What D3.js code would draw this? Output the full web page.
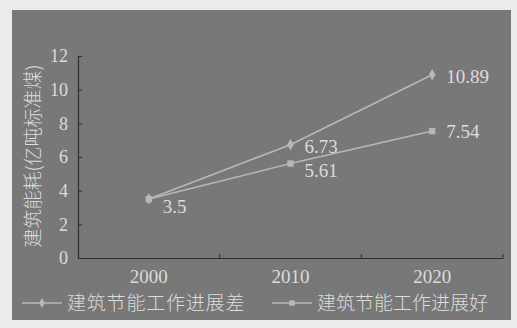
<!DOCTYPE html>
<html><head><meta charset="utf-8">
<script src="https://cdn.jsdelivr.net/npm/d3@7"></script>
<style>
html,body{margin:0;padding:0;background:#ebebeb;}
svg{display:block;}
</style></head>
<body>
<svg id="chart" width="517" height="328"></svg>
<script>
const categories = ["2000", "2010", "2020"];
const seriesNames = ["建筑节能工作进展差", "建筑节能工作进展好"];
const seriesBad = [3.5, 6.73, 10.89];
const seriesGood = [3.5, 5.61, 7.54];
const yTicks = [0, 2, 4, 6, 8, 10, 12];
const yTitle = "建筑能耗(亿吨标准煤)";

const svg = d3.select("#chart");
const bg = "#787878", textCol = "#dcdcdc", lineCol = "#b7b7b7", axisCol = "#2e2e2e";
const serif = "'Liberation Serif','DejaVu Serif',serif";
const cjk = "'Noto Sans CJK SC','Noto Sans',sans-serif";

svg.append("rect").attr("x", 12).attr("y", 10).attr("width", 499).attr("height", 310).attr("fill", bg);

const margin = {left: 78, right: 503, top: 56, bottom: 258};
const x = d3.scaleBand().domain(categories).range([margin.left, margin.right]).padding(0);
const y = d3.scaleLinear().domain([0, 12]).range([margin.bottom, margin.top]);

// y axis
const yAxis = svg.append("g").attr("transform", `translate(${margin.left},0)`)
  .call(d3.axisLeft(y).tickValues(yTicks).tickSize(-4).tickPadding(10).tickFormat(d3.format("d")));
yAxis.select(".domain").attr("stroke", axisCol).attr("stroke-width", 1.2);
yAxis.selectAll(".tick line").attr("stroke", axisCol);
yAxis.selectAll("text").attr("fill", textCol).attr("font-family", serif).attr("font-size", 18);

// x axis
const xAxis = svg.append("g").attr("transform", `translate(0,${margin.bottom})`)
  .call(d3.axisBottom(x).tickSize(0).tickPadding(12));
xAxis.select(".domain").attr("stroke", axisCol).attr("stroke-width", 1.2);
xAxis.selectAll("text").attr("fill", textCol).attr("font-family", serif).attr("font-size", 19);
// boundary ticks
xAxis.selectAll(".bt").data(categories.slice(1).concat(["end"])).join("line")
  .attr("x1", (d, i) => margin.left + x.bandwidth() * (i + 1))
  .attr("x2", (d, i) => margin.left + x.bandwidth() * (i + 1))
  .attr("y1", 0).attr("y2", -4).attr("stroke", axisCol);

// y title
svg.append("text").attr("transform", `translate(40,156) rotate(-90)`)
  .attr("text-anchor", "middle").attr("fill", textCol).attr("font-family", cjk)
  .attr("font-size", 19).attr("font-weight", 300).text(yTitle);

const cx = d => x(d) + x.bandwidth() / 2;
const line = d3.line().x((d, i) => cx(categories[i])).y(d => y(d));

const series = [
  {name: seriesNames[0], values: seriesBad, shape: d3.symbolDiamond},
  {name: seriesNames[1], values: seriesGood, shape: d3.symbolSquare}
];

series.forEach((s, si) => {
  svg.append("path").datum(s.values).attr("d", line)
    .attr("fill", "none").attr("stroke", lineCol).attr("stroke-width", 1.6);
  svg.selectAll(".m" + si).data(s.values).join("path")
    .attr("transform", (d, i) => `translate(${cx(categories[i])},${y(d)})`)
    .attr("d", d3.symbol().type(s.shape).size(si === 0 ? 38 : 40))
    .attr("fill", lineCol);
});

// value labels
const fmt = d => String(d);
series.forEach((s, si) => {
  s.values.forEach((v, i) => {
    if (i === 0 && si === 1) return;
    const dy = i === 0 ? 14 : (si === 0 ? 8 : (i === 1 ? 13 : 7));
    svg.append("text").attr("x", cx(categories[i]) + 14).attr("y", y(v) + dy)
      .attr("fill", textCol).attr("font-family", serif).attr("font-size", 19).text(fmt(v));
  });
});

// legend
const legend = [
  {x0: 22, text: seriesNames[0], shape: d3.symbolDiamond, ls: 0.8},
  {x0: 272, text: seriesNames[1], shape: d3.symbolSquare, ls: 0}
];
legend.forEach(l => {
  const g = svg.append("g").attr("transform", `translate(${l.x0},303)`);
  g.append("line").attr("x1", 0).attr("x2", 40).attr("y1", 0).attr("y2", 0)
    .attr("stroke", lineCol).attr("stroke-width", 1.6);
  g.append("path").attr("transform", "translate(20,0)")
    .attr("d", d3.symbol().type(l.shape).size(30)).attr("fill", lineCol);
  g.append("text").attr("x", 45).attr("y", 7).attr("fill", textCol)
    .attr("font-family", cjk).attr("font-size", 19).attr("font-weight", 300)
    .attr("letter-spacing", l.ls).text(l.text);
});
</script>
</body></html>
